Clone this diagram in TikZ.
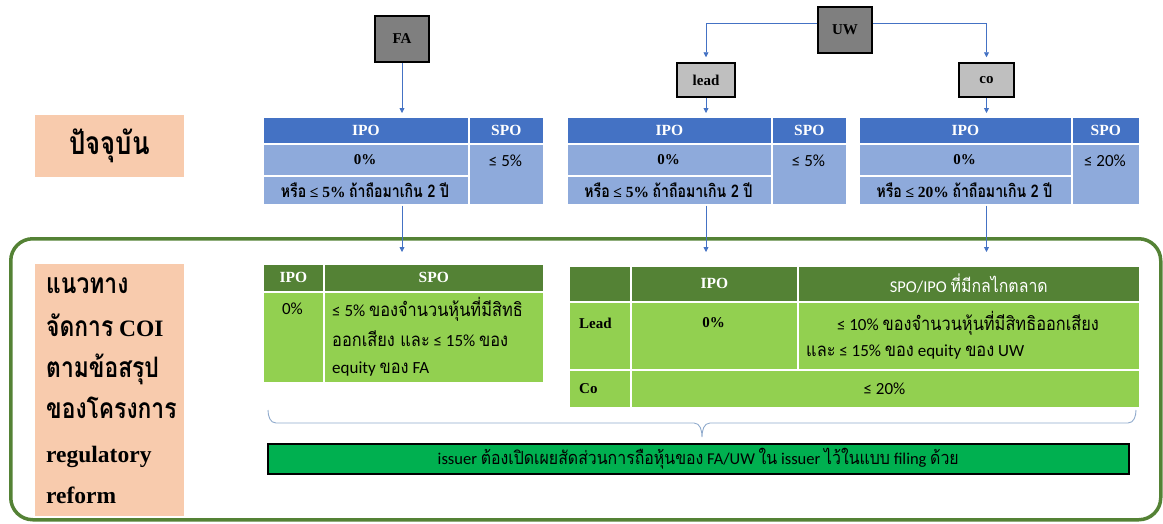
\documentclass[tikz,border=0pt]{standalone}
\usepackage{fontspec}
\setmainfont{Liberation Serif}
\newfontfamily\calfont{Carlito}
\newfontfamily\thaifont[Script=Thai,Scale=1.1,FakeStretch=0.875]{Loma}
\newfontfamily\thaicond[Script=Thai,Scale=1.2,FakeStretch=0.81]{Loma}
\usetikzlibrary{arrows.meta}
\definecolor{hblue}{HTML}{4472C4}
\definecolor{bblue}{HTML}{8EAADB}
\definecolor{hgreen}{HTML}{548235}
\definecolor{bgreen}{HTML}{92D050}
\definecolor{peach}{HTML}{F8CBAD}
\definecolor{dgray}{HTML}{7F7F7F}
\definecolor{lgray}{HTML}{BFBFBF}
\definecolor{barg}{HTML}{00B050}
\definecolor{frameg}{HTML}{548235}
\definecolor{bracec}{HTML}{8FAACC}
\newcommand\thx[1]{{\thaifont #1}}
\newcommand\thb[1]{{\thaicond\bfseries #1}}
\newcommand\cellbox[6]{\node[cellst,fill=#6,minimum width=#4pt-#2pt,minimum height=#5pt-#3pt] (#1) at (#2,#3) {};}
\tikzset{
  cellst/.style={rectangle,draw=white,line width=1.6pt,inner sep=0pt,anchor=north west},
  darkbox/.style={rectangle,draw=black,line width=1.5pt,fill=dgray,inner sep=0pt,font=\fontsize{15}{17}\selectfont\bfseries},
  lightbox/.style={rectangle,draw=black,line width=1.5pt,fill=lgray,inner sep=0pt,font=\fontsize{15}{17}\selectfont\bfseries},
  hdr/.style={text=white,font=\fontsize{15.5}{18}\selectfont\bfseries,inner sep=0pt},
  hdrs/.style={text=white,font=\fontsize{16.5}{18}\selectfont\calfont,inner sep=0pt},
  bodyb/.style={font=\fontsize{15}{17}\selectfont\bfseries,inner sep=0pt},
  bodys/.style={font=\fontsize{17}{19}\selectfont\calfont,inner sep=0pt},
  bodyt/.style={font=\fontsize{14.5}{17}\selectfont,inner sep=0pt},
  lefttxt/.style={font=\fontsize{23.5}{26}\selectfont\bfseries,anchor=base west,inner sep=0pt},
  conn/.style={draw=hblue,line width=0.8pt,-{Triangle[width=5pt,length=5pt]}},
  bracest/.style={draw=bracec,line width=0.9pt},
  framest/.style={rectangle,draw=frameg,line width=3.5pt,rounded corners=22pt,anchor=north west,inner sep=0pt},
}
\begin{document}
\begin{tikzpicture}[x=1pt,y=-1pt]
\useasboundingbox (0,0) rectangle (1163,523);
% frame
\node[framest,minimum width=1150pt,minimum height=281pt] (frame) at (9,237) {};
% peach labels
\node[rectangle,fill=peach,anchor=north west,minimum width=149pt,minimum height=62pt,inner sep=0pt] (now) at (35,115) {};
\node[font=\fontsize{26.5}{28}\selectfont\thaicond\bfseries,inner sep=0pt] (nowt) at (now.center) {ปัจจุบัน};
\node[rectangle,fill=peach,anchor=north west,minimum width=149pt,minimum height=252pt,inner sep=0pt] (guide) at (35,264) {};
\node[lefttxt] (g1) at (46,293) {\thb{แนวทาง}};
\node[lefttxt] (g2) at (46,336) {\thb{จัดการ} COI};
\node[lefttxt] (g3) at (46,377) {\thb{ตามข้อสรุป}};
\node[lefttxt] (g4) at (46,418) {\thb{ของโครงการ}};
\node[lefttxt] (g5) at (46,462) {regulatory};
\node[lefttxt] (g6) at (46,503) {reform};
% top boxes
\node[darkbox,minimum width=54pt,minimum height=46pt] (FA) at (402,39) {FA};
\node[darkbox,minimum width=54pt,minimum height=46pt] (UW) at (845,30) {UW};
\node[lightbox,minimum width=58pt,minimum height=34pt] (lead) at (706,80) {lead};
\node[lightbox,minimum width=55pt,minimum height=34pt] (co) at (986.5,80) {co};
% table 1
\cellbox{t1hi}{262}{116}{468}{143}{hblue}
\cellbox{t1hs}{468}{116}{543}{143}{hblue}
\cellbox{t1r1}{262}{143}{468}{175}{bblue}
\cellbox{t1r2}{262}{175}{468}{204}{bblue}
\cellbox{t1s}{468}{143}{543}{204}{bblue}
\node[hdr] (t1a) at (t1hi.center) {IPO};
\node[hdr] (t1b) at (t1hs.center) {SPO};
\node[bodyb] (t1c) at (365,160) {0\%};
\node[bodyt] (t1d) at (365,190) {\thb{หรือ} {\bfseries\fontsize{15.5}{17}\selectfont ≤ 5\%} \thb{ถ้าถือมาเกิน 2 ปี}};
\node[bodys] (t1e) at (505.5,161) {≤ 5\%};
% table 2
\cellbox{t2hi}{566}{116}{771}{143}{hblue}
\cellbox{t2hs}{771}{116}{846}{143}{hblue}
\cellbox{t2r1}{566}{143}{771}{175}{bblue}
\cellbox{t2r2}{566}{175}{771}{204}{bblue}
\cellbox{t2s}{771}{143}{846}{204}{bblue}
\node[hdr] (t2a) at (t2hi.center) {IPO};
\node[hdr] (t2b) at (t2hs.center) {SPO};
\node[bodyb] (t2c) at (668.5,160) {0\%};
\node[bodyt] (t2d) at (668.5,190) {\thb{หรือ} {\bfseries\fontsize{15.5}{17}\selectfont ≤ 5\%} \thb{ถ้าถือมาเกิน 2 ปี}};
\node[bodys] (t2e) at (808.5,161) {≤ 5\%};
% table 3
\cellbox{t3hi}{858}{116}{1071}{143}{hblue}
\cellbox{t3hs}{1071}{116}{1139}{143}{hblue}
\cellbox{t3r1}{858}{143}{1071}{175}{bblue}
\cellbox{t3r2}{858}{175}{1071}{204}{bblue}
\cellbox{t3s}{1071}{143}{1139}{204}{bblue}
\node[hdr] (t3a) at (t3hi.center) {IPO};
\node[hdr] (t3b) at (t3hs.center) {SPO};
\node[bodyb] (t3c) at (964.5,160) {0\%};
\node[bodyt] (t3d) at (964.5,190) {\thb{หรือ} {\bfseries\fontsize{15.5}{17}\selectfont ≤ 20\%} \thb{ถ้าถือมาเกิน 2 ปี}};
\node[bodys] (t3e) at (1105,161) {≤ 20\%};
% table 4
\cellbox{t4hi}{262}{263}{323}{291}{hgreen}
\cellbox{t4hs}{323}{263}{543}{291}{hgreen}
\cellbox{t4bi}{262}{291}{323}{382}{bgreen}
\cellbox{t4bs}{323}{291}{543}{382}{bgreen}
\node[hdr] (t4a) at (t4hi.center) {IPO};
\node[hdr] (t4b) at (t4hs.center) {SPO};
\node[bodys] (t4c) at (292.5,309) {0\%};
\node[bodys,anchor=west] (t4d) at (332,309) {≤ 5\% \thx{ของจำนวนหุ้นที่มีสิทธิ}};
\node[bodys,anchor=west] (t4e) at (332,339) {\thx{ออกเสียง และ} ≤ 15\% \thx{ของ}};
\node[bodys,anchor=west] (t4f) at (332,369) {equity \thx{ของ} FA};
% table 5
\cellbox{t5h0}{568}{265}{630}{301}{hgreen}
\cellbox{t5h1}{630}{265}{797}{301}{hgreen}
\cellbox{t5h2}{797}{265}{1139}{301}{hgreen}
\cellbox{t5l0}{568}{301}{630}{369}{bgreen}
\cellbox{t5l1}{630}{301}{797}{369}{bgreen}
\cellbox{t5l2}{797}{301}{1139}{369}{bgreen}
\cellbox{t5c0}{568}{369}{630}{407}{bgreen}
\cellbox{t5c1}{630}{369}{1139}{407}{bgreen}
\node[hdr] (t5a) at (t5h1.center) {IPO};
\node[hdrs] (t5b) at (t5h2.center) {SPO/IPO \thx{ที่มีกลไกตลาด}};
\node[bodyb,anchor=west] (t5c) at (579,323) {Lead};
\node[bodyb] (t5d) at (713.5,323) {0\%};
\node[bodys] (t5e) at (968,323) {≤ 10\% \thx{ของจำนวนหุ้นที่มีสิทธิออกเสียง}};
\node[bodys,anchor=west] (t5f) at (806,352) {\thx{และ} ≤ 15\% \thx{ของ} equity \thx{ของ} UW};
\node[bodyb,anchor=west] (t5g) at (579,389) {Co};
\node[bodys] (t5h) at (884.5,389) {≤ 20\%};
% brace
\coordinate (brL) at (268,410);
\coordinate (brM) at (702,437);
\coordinate (brR) at (1136,410);
\draw[bracest] (brL) to[out=-90,in=180] (276,423) -- (694,423) to[out=0,in=90] (brM)
  to[out=90,in=180] (710,423) -- (1128,423) to[out=0,in=-90] (brR);
% bottom bar
\node[rectangle,draw=black,line width=1.5pt,fill=barg,anchor=north west,minimum width=861pt,minimum height=30pt,inner sep=0pt] (bar) at (267,443) {};
\node[bodys,font=\fontsize{16.5}{18}\selectfont\calfont] (bart) at (bar.center) {issuer \thx{ต้องเปิดเผยสัดส่วนการถือหุ้นของ} FA/UW \thx{ใน} issuer \thx{ไว้ในแบบ} filing \thx{ด้วย}};
% connectors
\draw[conn,shorten >=3pt] (FA.south) -- (FA.south |- t1hi.north);
\draw[conn,shorten >=5pt] ([yshift=7pt]UW.west) -| (lead.north);
\draw[conn,shorten >=5pt] ([yshift=7pt]UW.east) -| (co.north);
\draw[conn,shorten >=3pt] (lead.south) -- (lead.south |- t2hi.north);
\draw[conn,shorten >=3pt] (co.south) -- (co.south |- t3hi.north);
\draw[conn,shorten >=11pt] (FA.south |- t1r2.south) -- (FA.south |- t4hs.north);
\draw[conn,shorten >=13pt] (lead.south |- t2r2.south) -- (lead.south |- t5h1.north);
\draw[conn,shorten >=13pt] (co.south |- t3r2.south) -- (co.south |- t5h2.north);
\end{tikzpicture}
\end{document}
